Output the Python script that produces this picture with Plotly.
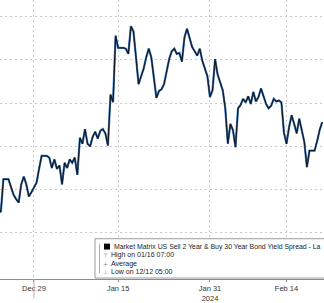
import pandas as pd
import plotly.graph_objects as go

# Business days shown (weekends removed; holidays carried flat)
days = ["2023-12-22", "2023-12-25", "2023-12-26", "2023-12-27", "2023-12-28", "2023-12-29",
        "2024-01-01", "2024-01-02", "2024-01-03", "2024-01-04", "2024-01-05",
        "2024-01-08", "2024-01-09", "2024-01-10", "2024-01-11", "2024-01-12",
        "2024-01-15", "2024-01-16", "2024-01-17", "2024-01-18", "2024-01-19",
        "2024-01-22", "2024-01-23", "2024-01-24", "2024-01-25", "2024-01-26",
        "2024-01-29", "2024-01-30", "2024-01-31", "2024-02-01", "2024-02-02",
        "2024-02-05", "2024-02-06", "2024-02-07", "2024-02-08", "2024-02-09",
        "2024-02-12", "2024-02-13", "2024-02-14", "2024-02-15", "2024-02-16",
        "2024-02-19", "2024-02-20"]
sample_hours = [0, 8, 16]

# 2s30s spread (bp), three readings per day
spread_bp = [
    -11.4, -12.2, -12.6,   # Dec 22
    -8.8, -8.8, -8.8,      # Dec 25
    -9.7, -10.6, -11.1,    # Dec 26
    -11.5, -9.4, -8.5,     # Dec 27
    -9.4, -10.8, -10.3,    # Dec 28
    -9.7, -9.2, -7.6,      # Dec 29
    -6.1, -6.1, -6.1,      # Jan 1
    -6.3, -7.5, -6.5,      # Jan 2
    -7.6, -7.2, -9.4,      # Jan 3
    -6.9, -7.5, -6.5,      # Jan 4
    -6.9, -6.3, -8.3,      # Jan 5
    -4.0, -4.7, -3.0,      # Jan 8
    -4.7, -5.0, -3.9,      # Jan 9
    -3.3, -4.1, -3.2,      # Jan 10
    -3.0, -3.5, -4.9,      # Jan 11
    1.0, 0.1, 7.8,         # Jan 12
    6.4, 6.4, 6.4,         # Jan 15
    6.3, 5.7, 8.9,         # Jan 16
    8.3, 5.3, 2.2,         # Jan 17
    3.1, 4.0, 5.3,         # Jan 18
    6.3, 5.3, 2.6,         # Jan 19
    0.6, 1.4, 1.6,         # Jan 22
    2.2, 3.5, 5.1,         # Jan 23
    6.0, 6.3, 5.7,         # Jan 24
    5.8, 4.8, 7.6,         # Jan 25
    8.6, 7.4, 6.5,         # Jan 26
    6.0, 5.5, 6.3,         # Jan 29
    4.9, 4.0, 3.1,         # Jan 30
    0.7, 1.5, 5.1,         # Jan 31
    3.3, 2.4, 1.5,         # Feb 1
    -0.6, -4.7, -2.4,      # Feb 2
    -3.1, -5.1, -0.6,      # Feb 5
    -0.2, 0.5, 0.1,        # Feb 6
    0.8, -0.1, 1.3,        # Feb 7
    0.2, 0.7, 1.7,         # Feb 8
    0.7, -0.1, -0.6,       # Feb 9
    -0.3, 0.5, 0.2,        # Feb 12
    0.3, 0.1, -3.4,        # Feb 13
    -4.7, -2.8, -1.4,      # Feb 14
    -2.4, -3.5, -1.8,      # Feb 15
    -3.3, -4.5, -7.4,      # Feb 16
    -5.5, -5.5, -5.5,      # Feb 19
    -4.4, -3.1, -2.2,      # Feb 20
]

tick_dates = ["2023-12-29", "2024-01-15", "2024-01-31", "2024-02-14"]
tick_labels = ["Dec 29", "Jan 15", "Jan 31<br>2024", "Feb 14"]

legend_title = "Market Matrix US Sell 2 Year & Buy 30 Year Bond Yield Spread - La"
legend_items = [("\u22a4", "High on 01/16 07:00"), ("+", "Average"), ("\u22a5", "Low on 12/12 05:00")]

times = [pd.Timestamp(d) + pd.Timedelta(hours=h) for d in days for h in sample_hours]

fig = go.Figure()
fig.add_trace(go.Scatter(x=times, y=spread_bp, mode="lines",
                         line=dict(color="#4a82c8", width=2.2), hoverinfo="skip"))
fig.add_trace(go.Scatter(x=times, y=spread_bp, mode="lines",
                         line=dict(color="#141c28", width=1.3)))

W, H = 324, 303
PLOT_B = 284  # pixel row of plot bottom


def px(x):
    return x / W


def py(y):
    return (PLOT_B - y) / PLOT_B


shapes = [
    dict(type="rect", xref="paper", yref="paper", x0=px(95), x1=px(340), y0=py(283), y1=py(243),
         line=dict(color="#9a9a9a", width=1), fillcolor="white", layer="above"),
    dict(type="line", xref="paper", yref="paper", x0=px(99.5), x1=px(99.5), y0=py(278), y1=py(248),
         line=dict(color="#b0b0b0", width=1), layer="above"),
    dict(type="rect", xref="paper", yref="paper", x0=px(104), x1=px(110), y0=py(254), y1=py(248),
         line=dict(color="black", width=0), fillcolor="black", layer="above"),
    dict(type="line", xref="x", yref="paper", x0=tick_dates[0], x1=tick_dates[0], y0=0, y1=-0.07,
         line=dict(color="#b0b0b0", width=1)),
]

annotations = [
    dict(xref="paper", yref="paper", x=px(111.5), y=py(251.5), text=legend_title, showarrow=False,
         xanchor="left", yanchor="middle", font=dict(family="Liberation Sans", size=6.9, color="#1a1a1a")),
]
rows_y = [260, 268.3, 276.3]
for (sym, txt), yy in zip(legend_items, rows_y):
    annotations.append(dict(xref="paper", yref="paper", x=px(105.5), y=py(yy), text=sym, showarrow=False,
                            xanchor="center", yanchor="middle",
                            font=dict(family="DejaVu Sans", size=6, color="#8a8a8a")))
    annotations.append(dict(xref="paper", yref="paper", x=px(109), y=py(yy), text=txt, showarrow=False,
                            xanchor="left", yanchor="middle",
                            font=dict(family="Liberation Sans", size=7, color="#1a1a1a")))

fig.update_layout(
    width=W, height=H,
    margin=dict(l=0, r=0, t=0, b=H - PLOT_B),
    paper_bgcolor="white", plot_bgcolor="white",
    showlegend=False,
    shapes=shapes, annotations=annotations,
    xaxis=dict(
        type="date",
        range=["2023-12-22 13:26", "2024-02-20 21:36"],
        rangebreaks=[dict(bounds=["sat", "mon"])],
        tickvals=tick_dates, ticktext=tick_labels,
        tickfont=dict(family="Liberation Sans", size=7.5, color="#333333"),
        showgrid=True, gridcolor="#c8c8c8", griddash="2px,3px", gridwidth=1,
        showline=True, linecolor="#8c8c8c", linewidth=1,
        ticks="outside", ticklen=2, tickcolor="#8c8c8c",
        zeroline=False, fixedrange=True,
    ),
    yaxis=dict(
        range=[-20.34, 11.93],
        tickvals=[-15, -10, -5, 0, 5, 10],
        showticklabels=False,
        showgrid=True, gridcolor="#c8c8c8", griddash="2px,3px", gridwidth=1,
        zeroline=False, showline=False, ticks="",
    ),
)

fig.write_html("out.html")
